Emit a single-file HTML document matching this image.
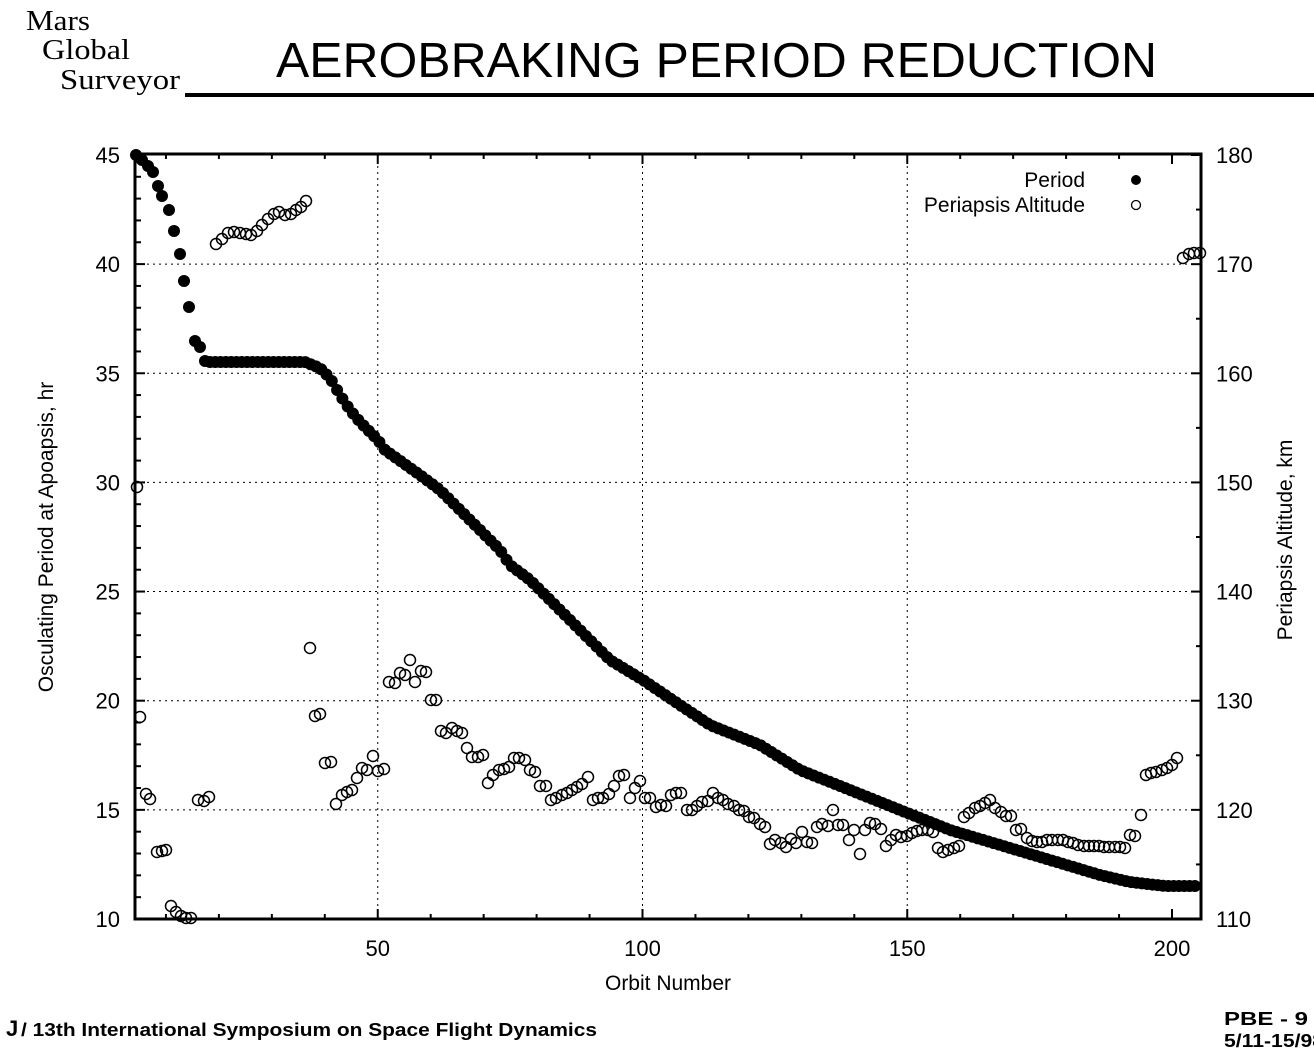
<!DOCTYPE html>
<html><head><meta charset="utf-8"><style>
body{margin:0;background:#fff;width:1314px;height:1049px;overflow:hidden;}
svg{display:block}
</style></head><body>
<svg id="s" width="1314" height="1049" xmlns="http://www.w3.org/2000/svg" font-family="Liberation Sans, sans-serif">
<rect width="1314" height="1049" fill="#fff"/>
<text x="26" y="30" font-family="Liberation Serif, serif" font-size="29" textLength="64" lengthAdjust="spacingAndGlyphs">Mars</text>
<text x="42" y="59" font-family="Liberation Serif, serif" font-size="29" textLength="88" lengthAdjust="spacingAndGlyphs">Global</text>
<text x="60" y="89" font-family="Liberation Serif, serif" font-size="29" textLength="120" lengthAdjust="spacingAndGlyphs">Surveyor</text>
<rect x="185" y="93" width="1129" height="4" fill="#000"/>
<text x="276" y="77" font-size="49" textLength="881" lengthAdjust="spacingAndGlyphs">AEROBRAKING PERIOD REDUCTION</text>
<g id="grid" stroke="#000" stroke-width="1" stroke-dasharray="2,4"></g>
<rect x="135" y="154" width="1066" height="765" fill="none" stroke="#000" stroke-width="3"/>
<g id="ticks" stroke="#000" stroke-width="2"></g>
<g id="lab" font-size="22"></g>
<text x="668" y="990" font-size="21" text-anchor="middle">Orbit Number</text>
<text transform="translate(53,537) rotate(-90)" font-size="21" text-anchor="middle">Osculating Period at Apoapsis,  hr</text>
<text transform="translate(1292,540) rotate(-90)" font-size="21" text-anchor="middle">Periapsis Altitude,  km</text>
<text x="1085" y="187" font-size="21" text-anchor="end">Period</text>
<text x="1085" y="212" font-size="21" text-anchor="end">Periapsis Altitude</text>
<circle cx="1136" cy="180" r="5"/>
<circle cx="1136" cy="205" r="4.5" fill="none" stroke="#000" stroke-width="1.3"/>
<g id="pts"></g>
<text x="6" y="1036" font-size="22" font-weight="bold">J</text>
<text x="21" y="1036" font-size="18" font-weight="bold" textLength="576" lengthAdjust="spacingAndGlyphs">/ 13th International Symposium on Space Flight Dynamics</text>
<text x="1224" y="1025" font-size="18" font-weight="bold" textLength="84" lengthAdjust="spacingAndGlyphs">PBE  -  9</text>
<text x="1224" y="1047" font-size="18" font-weight="bold" textLength="100" lengthAdjust="spacingAndGlyphs">5/11-15/98</text>
</svg>
<script>
var NS="http://www.w3.org/2000/svg";
function el(p,t,a,txt){var e=document.createElementNS(NS,t);for(var k in a)e.setAttribute(k,a[k]);if(txt!=null)e.textContent=txt;document.getElementById(p).appendChild(e);}
var L=135,R=1201,T=154,B=919;
function X(o){return 113+o*5.295;}
function Y(v){return 919-(v-10)*21.83;}
[50,100,150].forEach(function(o){el("grid","line",{x1:X(o),y1:T,x2:X(o),y2:B});});
[15,20,25,30,35,40].forEach(function(v){el("grid","line",{x1:L,y1:Y(v),x2:R,y2:Y(v)});});
for(var v=10;v<=45;v++){var len=(v%5==0)?10:6;el("ticks","line",{x1:L,y1:Y(v),x2:L+len,y2:Y(v)});}
for(var k=110;k<=180;k+=10){var y=919-(k-110)*10.914;el("ticks","line",{x1:R,y1:y,x2:R-10,y2:y});el("lab","text",{x:1216,y:y+8},k);}
for(var k=115;k<180;k+=10){var y=919-(k-110)*10.914;el("ticks","line",{x1:R,y1:y,x2:R-5,y2:y});}
for(var o=10;o<=200;o+=10){var len=(o%50==0)?10:5;el("ticks","line",{x1:X(o),y1:B,x2:X(o),y2:B-len});el("ticks","line",{x1:X(o),y1:T,x2:X(o),y2:T+len});}
for(var v=10;v<=45;v+=5){el("lab","text",{x:120,y:Y(v)+8,"text-anchor":"end"},v);}
[50,100,150,200].forEach(function(o){el("lab","text",{x:X(o),y:956,"text-anchor":"middle"},o);});
var kp=[[136,155],[142,160],[148,166],[153,172],[158,186],[162,196],[169,210],[174,231],[180,254],[184,281],[189,307],[195,341],[200,347],[205,361],[210,362],[305,362],[320,368],[330,378],[340,395],[350,410],[360,422],[378,440],[385,450],[420,475],[440,490],[460,510],[480,530],[500,550],[510,565],[530,580],[550,600],[570,620],[590,640],[610,660],[643,680],[680,705],[710,725],[760,745],[800,770],[850,790],[900,810],[950,830],[1000,845],[1050,860],[1100,875],[1130,882],[1165,886],[1200,886]];
var early=[[136,155],[142,160],[148,166],[153,172],[158,186],[162,196],[169,210],[174,231],[180,254],[184,281],[189,307],[195,341],[200,347],[205,361]];
early.forEach(function(p){el("pts","circle",{cx:p[0],cy:p[1],r:6});});
function interp(x){for(var i=0;i<kp.length-1;i++){if(x>=kp[i][0]&&x<=kp[i+1][0]){var t=(x-kp[i][0])/(kp[i+1][0]-kp[i][0]);return kp[i][1]+t*(kp[i+1][1]-kp[i][1]);}}return kp[kp.length-1][1];}
for(var x=210;x<=1200;x+=5.295){el("pts","circle",{cx:x,cy:interp(x),r:6});}
var pa=[[137,487],[140,717],[146,794],[150,799],[157,852],[162,851],[166,850],[171,906],[176,912],[181,916],[186,918],[191,918],[198,800],[204,801],[209,797],[216,244],[222,239],[228,233],[234,232],[240,233],[246,234],[251,235],[257,231],[262,225],[268,219],[274,214],[279,212],[285,215],[291,214],[296,210],[301,207],[306,201],[310,648],[315,716],[320,714],[325,763],[331,762],[336,804],[342,795],[347,792],[352,790],[357,778],[362,768],[367,770],[373,756],[378,771],[384,769],[389,682],[395,683],[400,673],[405,675],[410,660],[415,682],[421,671],[426,672],[431,700],[436,700],[441,731],[446,733],[452,728],[457,731],[462,733],[467,748],[472,757],[478,757],[483,755],[488,783],[493,775],[499,770],[504,769],[509,767],[514,758],[519,758],[525,760],[530,770],[535,772],[540,786],[546,786],[551,800],[556,798],[562,795],[567,793],[572,790],[577,787],[582,784],[588,777],[593,800],[598,798],[603,798],[609,794],[614,786],[619,776],[624,775],[630,798],[635,788],[640,781],[645,798],[650,798],[656,807],[661,805],[666,806],[671,795],[676,793],[681,793],[687,810],[692,810],[697,806],[702,802],[708,801],[713,793],[718,798],[723,800],[728,804],[734,806],[739,810],[744,811],[749,817],[754,818],[760,824],[765,827],[770,844],[775,840],[781,843],[786,847],[791,839],[796,843],[802,832],[807,842],[812,843],[817,827],[822,824],[828,826],[833,810],[838,825],[843,825],[849,840],[854,830],[860,854],[865,830],[870,823],[875,824],[881,829],[886,846],[891,840],[896,835],[901,837],[907,836],[912,833],[917,831],[922,830],[928,830],[933,832],[938,848],[943,852],[948,850],[954,848],[959,846],[964,817],[969,813],[975,808],[980,806],[985,803],[990,800],[995,808],[1001,812],[1006,816],[1011,816],[1016,830],[1021,829],[1027,838],[1032,841],[1037,842],[1042,842],[1047,840],[1052,840],[1058,840],[1063,840],[1068,842],[1073,843],[1078,845],[1084,846],[1089,846],[1094,846],[1099,846],[1104,847],[1109,847],[1115,847],[1120,847],[1125,848],[1130,835],[1135,836],[1141,815],[1146,775],[1151,773],[1156,772],[1162,770],[1167,768],[1172,765],[1177,758],[1183,258],[1189,254],[1194,253],[1200,253]];
pa.forEach(function(p){el("pts","circle",{cx:p[0],cy:p[1],r:5.5,fill:"none",stroke:"#000","stroke-width":1.5});});
</script>
</body></html>
